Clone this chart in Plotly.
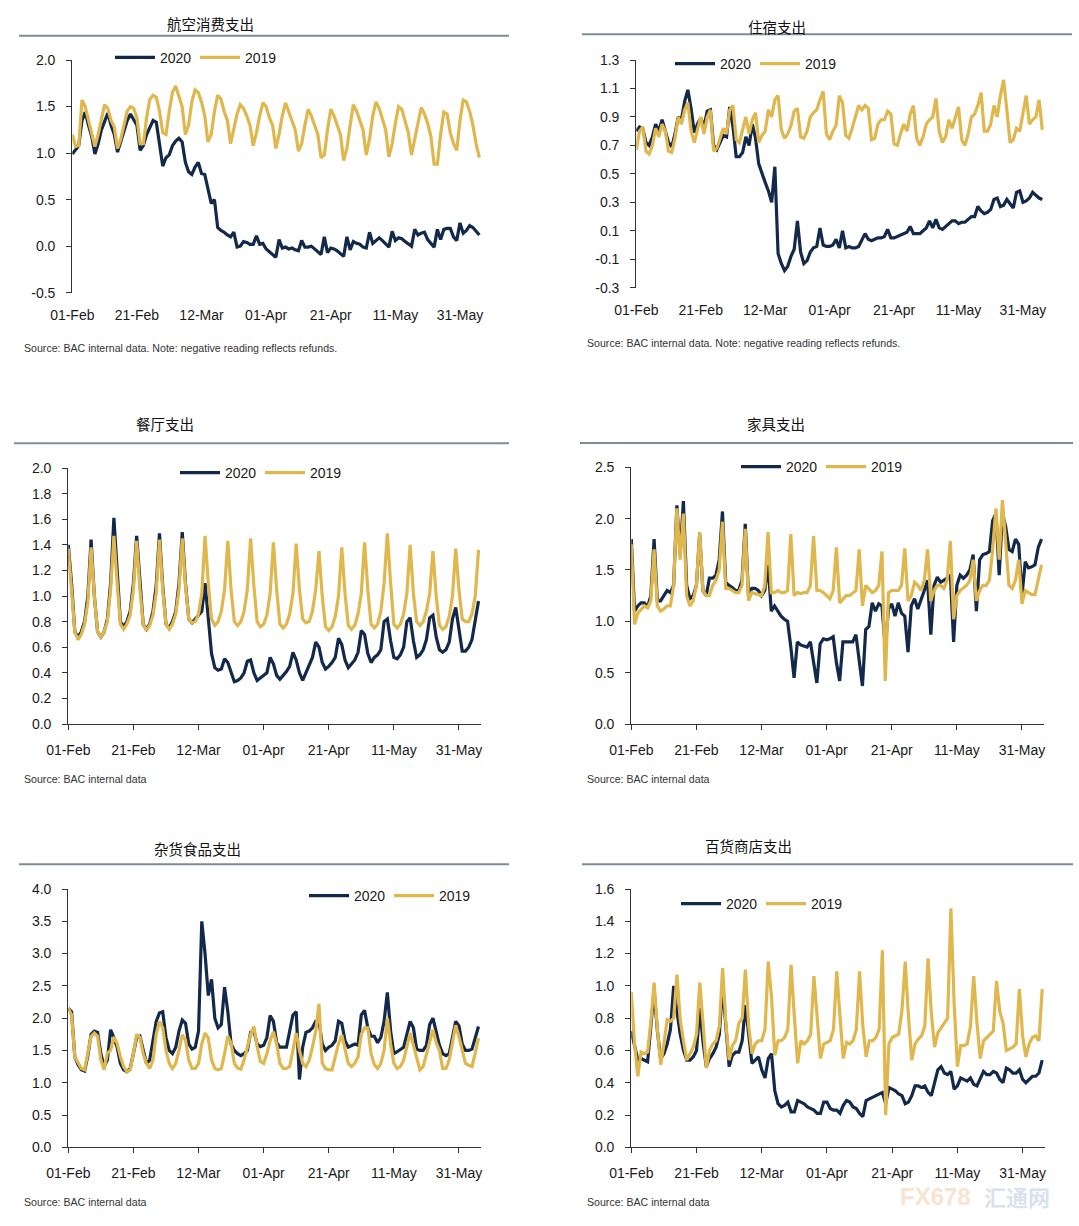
import pandas as pd
import plotly.graph_objects as go

W, H = 1079, 1226
START = "2020-02-01"
SPAN_DAYS = 126.8

TICK_DATES = ["2020-02-01", "2020-02-21", "2020-03-12", "2020-04-01",
              "2020-04-21", "2020-05-11", "2020-05-31"]
TICK_LABELS = ["01-Feb", "21-Feb", "12-Mar", "01-Apr", "21-Apr", "11-May", "31-May"]
SERIES_NAMES = ["2020", "2019"]

TITLES = ["航空消费支出", "住宿支出", "餐厅支出", "家具支出", "杂货食品支出", "百货商店支出"]
SOURCE_NOTE = "Source: BAC internal data. Note: negative reading reflects refunds."
SOURCE_PLAIN = "Source: BAC internal data"

# ---- daily values, 01-Feb .. 06-Jun (one row = one week) ----
airline_2020 = [
    0.99, 1.03, 1.08, 1.35, 1.44, 1.30, 1.18,
    0.99, 1.10, 1.25, 1.35, 1.43, 1.30, 1.20,
    1.01, 1.12, 1.25, 1.35, 1.42, 1.36, 1.30,
    1.03, 1.08, 1.20, 1.28, 1.35, 1.33, 1.12,
    0.86, 0.95, 0.98, 1.08, 1.13, 1.16, 1.12,
    0.90, 0.80, 0.77, 0.85, 0.90, 0.78, 0.77,
    0.60, 0.46, 0.50, 0.20, 0.17, 0.15, 0.12,
    0.10, 0.15, -0.01, 0.00, 0.05, 0.04, 0.02,
    0.02, 0.11, 0.02, 0.03, -0.03, -0.06, -0.08,
    -0.12, 0.07, -0.02, -0.01, -0.03, -0.02, -0.04,
    -0.05, 0.06, -0.01, -0.01, 0.00, -0.03, -0.05,
    -0.09, 0.10, -0.07, -0.02, -0.03, -0.05, -0.08,
    -0.11, 0.10, -0.04, 0.05, 0.03, 0.02, -0.01,
    -0.02, 0.15, 0.03, 0.06, 0.09, 0.06, 0.03,
    -0.01, 0.16, 0.06, 0.09, 0.08, 0.05, 0.02,
    0.00, 0.18, 0.12, 0.14, 0.15, 0.07, 0.03,
    -0.01, 0.18, 0.07, 0.18, 0.19, 0.19, 0.10,
    0.06, 0.25, 0.14, 0.17, 0.22, 0.20, 0.16,
    0.12]
airline_2019 = [
    1.20, 1.07, 1.08, 1.57, 1.50, 1.35, 1.22,
    1.07, 1.20, 1.38, 1.52, 1.48, 1.35, 1.28,
    1.05, 1.15, 1.32, 1.45, 1.50, 1.48, 1.38,
    1.10, 1.10, 1.38, 1.58, 1.62, 1.60, 1.45,
    1.22, 1.20, 1.45, 1.65, 1.72, 1.62, 1.50,
    1.20, 1.30, 1.55, 1.68, 1.65, 1.55, 1.40,
    1.12, 1.20, 1.45, 1.62, 1.58, 1.45, 1.35,
    1.10, 1.25, 1.42, 1.52, 1.48, 1.40, 1.30,
    1.08, 1.22, 1.40, 1.54, 1.50, 1.38, 1.30,
    1.05, 1.20, 1.40, 1.54, 1.45, 1.35, 1.25,
    1.02, 1.10, 1.30, 1.47, 1.40, 1.30, 1.20,
    0.95, 0.98, 1.25, 1.47, 1.40, 1.30, 1.20,
    0.92, 1.05, 1.30, 1.52, 1.45, 1.35, 1.25,
    0.98, 1.15, 1.40, 1.55, 1.48, 1.35, 1.25,
    0.96, 1.10, 1.32, 1.50, 1.47, 1.35, 1.22,
    0.98, 1.15, 1.35, 1.49, 1.42, 1.32, 1.18,
    0.88, 0.88, 1.20, 1.44, 1.42, 1.22, 1.10,
    1.03, 1.35, 1.57, 1.55, 1.45, 1.30, 1.10,
    0.95]

lodging_2020 = [
    0.80, 0.83, 0.82, 0.72, 0.70, 0.76, 0.85,
    0.80, 0.88, 0.80, 0.72, 0.69, 0.78, 0.90,
    0.88, 1.01, 1.09, 0.96, 0.79, 0.85, 0.89,
    0.83, 0.94, 0.95, 0.70, 0.67, 0.72, 0.77,
    0.76, 0.97, 0.83, 0.62, 0.62, 0.65, 0.76,
    0.70, 0.85, 0.75, 0.57, 0.50, 0.44, 0.38,
    0.30, 0.55, -0.06, -0.13, -0.18, -0.15, -0.08,
    -0.03, 0.17, -0.05, -0.13, -0.11, -0.05, -0.02,
    -0.01, 0.12, 0.00, -0.01, -0.01, 0.00, 0.04,
    -0.02, 0.10, -0.02, -0.01, -0.02, -0.02, -0.01,
    0.03, 0.08, 0.04, 0.03, 0.04, 0.05, 0.05,
    0.06, 0.11, 0.05, 0.05, 0.06, 0.07, 0.08,
    0.09, 0.13, 0.08, 0.08, 0.08, 0.10, 0.12,
    0.17, 0.12, 0.18, 0.12, 0.11, 0.13, 0.15,
    0.17, 0.17, 0.15, 0.16, 0.16, 0.18, 0.20,
    0.20, 0.27, 0.24, 0.22, 0.23, 0.25, 0.32,
    0.33, 0.27, 0.28, 0.32, 0.29, 0.26, 0.37,
    0.38, 0.30, 0.31, 0.33, 0.37, 0.35, 0.33,
    0.32]
lodging_2019 = [
    0.67, 0.80, 0.83, 0.66, 0.64, 0.70, 0.82,
    0.76, 0.85, 0.80, 0.66, 0.65, 0.75, 0.90,
    0.85, 0.95, 1.00, 0.80, 0.72, 0.80, 0.90,
    0.78, 0.90, 0.95, 0.66, 0.68, 0.75, 0.82,
    0.78, 0.95, 0.98, 0.74, 0.72, 0.80, 0.90,
    0.78, 0.88, 0.93, 0.72, 0.77, 0.80, 0.95,
    0.90, 1.02, 1.05, 0.81, 0.75, 0.78, 0.84,
    0.94, 0.96, 0.76, 0.75, 0.80, 0.90, 0.93,
    0.95, 1.02, 1.08, 0.78, 0.74, 0.80, 0.84,
    1.05, 1.00, 0.77, 0.75, 0.82, 0.90, 0.98,
    0.95, 0.98, 0.96, 0.74, 0.75, 0.85, 0.88,
    0.88, 0.94, 0.92, 0.71, 0.70, 0.78, 0.85,
    0.80, 0.92, 0.98, 0.75, 0.70, 0.76, 0.85,
    0.88, 0.90, 1.03, 0.80, 0.72, 0.76, 0.88,
    0.82, 0.90, 0.97, 0.74, 0.70, 0.78, 0.90,
    0.92, 0.98, 1.07, 0.80, 0.80, 0.85, 0.98,
    0.90, 1.05, 1.16, 0.95, 0.72, 0.74, 0.82,
    0.80, 0.92, 1.05, 0.85, 0.88, 0.90, 1.02,
    0.81]

restaurant_2020 = [
    1.40, 1.10, 0.72, 0.68, 0.72, 0.80, 1.00,
    1.44, 1.00, 0.72, 0.68, 0.72, 0.82, 1.10,
    1.61, 1.15, 0.80, 0.76, 0.80, 0.88, 1.10,
    1.47, 1.08, 0.78, 0.74, 0.78, 0.88, 1.08,
    1.49, 1.08, 0.78, 0.75, 0.80, 0.88, 1.10,
    1.50, 1.10, 0.82, 0.79, 0.82, 0.85, 0.88,
    1.10, 0.80, 0.55, 0.44, 0.42, 0.43, 0.51,
    0.48, 0.40, 0.33, 0.34, 0.36, 0.40, 0.49,
    0.50, 0.40, 0.34, 0.36, 0.38, 0.40, 0.52,
    0.47, 0.38, 0.35, 0.38, 0.41, 0.45, 0.56,
    0.50, 0.40, 0.34, 0.40, 0.45, 0.52, 0.64,
    0.60, 0.48, 0.43, 0.45, 0.48, 0.52, 0.67,
    0.62, 0.50, 0.44, 0.47, 0.50, 0.56, 0.73,
    0.70, 0.55, 0.48, 0.52, 0.54, 0.58, 0.80,
    0.82, 0.65, 0.52, 0.51, 0.54, 0.60, 0.80,
    0.83, 0.65, 0.52, 0.54, 0.58, 0.66, 0.83,
    0.85, 0.68, 0.58, 0.56, 0.58, 0.64, 0.82,
    0.91, 0.72, 0.57, 0.57, 0.60, 0.66, 0.80,
    0.96]
restaurant_2019 = [
    1.37, 1.05, 0.72, 0.66, 0.70, 0.78, 0.95,
    1.38, 1.00, 0.72, 0.68, 0.72, 0.80, 1.05,
    1.47, 1.10, 0.78, 0.74, 0.78, 0.85, 1.05,
    1.43, 1.05, 0.78, 0.73, 0.77, 0.85, 1.02,
    1.44, 1.05, 0.78, 0.74, 0.78, 0.86, 1.05,
    1.45, 1.08, 0.82, 0.79, 0.80, 0.86, 1.02,
    1.47, 1.10, 0.82, 0.77, 0.80, 0.88, 1.05,
    1.43, 1.05, 0.80, 0.77, 0.80, 0.88, 1.05,
    1.45, 1.08, 0.80, 0.76, 0.78, 0.85, 1.02,
    1.42, 1.05, 0.78, 0.75, 0.78, 0.86, 1.02,
    1.41, 1.05, 0.82, 0.79, 0.80, 0.88, 1.05,
    1.35, 1.00, 0.76, 0.73, 0.76, 0.84, 1.00,
    1.38, 1.02, 0.77, 0.74, 0.77, 0.86, 1.02,
    1.42, 1.05, 0.78, 0.75, 0.78, 0.88, 1.10,
    1.49, 1.10, 0.78, 0.75, 0.78, 0.86, 1.02,
    1.40, 1.02, 0.80, 0.77, 0.80, 0.88, 1.02,
    1.35, 1.00, 0.77, 0.74, 0.76, 0.84, 1.00,
    1.37, 1.05, 0.82, 0.80, 0.80, 0.86, 1.00,
    1.36]

furniture_2020 = [
    1.80, 1.10, 1.15, 1.18, 1.18, 1.14, 1.25,
    1.80, 1.20, 1.20, 1.25, 1.30, 1.28, 1.35,
    2.13, 1.65, 2.17, 1.35, 1.22, 1.25, 1.35,
    1.85, 1.30, 1.25, 1.42, 1.42, 1.45, 1.60,
    2.07, 1.38, 1.35, 1.33, 1.30, 1.30, 1.40,
    1.95, 1.25, 1.32, 1.32, 1.30, 1.25, 1.30,
    1.55, 1.10, 1.15, 1.10, 1.05, 1.02, 1.00,
    0.75, 0.45, 0.80, 0.77, 0.76, 0.75, 0.80,
    0.60, 0.40, 0.78, 0.83, 0.82, 0.83, 0.85,
    0.60, 0.42, 0.80, 0.80, 0.80, 0.80, 0.87,
    0.60, 0.37, 0.92, 0.95, 1.18, 1.10, 1.17,
    1.15, 0.75, 1.12, 1.17, 1.05, 1.18, 1.08,
    1.05, 0.70, 1.15, 1.22, 1.12, 1.20, 1.30,
    1.40, 0.87, 1.35, 1.43, 1.38, 1.40, 1.42,
    1.45, 0.80, 1.35, 1.45, 1.42, 1.45, 1.50,
    1.65, 1.10, 1.60, 1.65, 1.66, 1.68, 1.98,
    2.05, 1.45, 2.05, 1.92, 1.70, 1.68, 1.80,
    1.75, 1.25, 1.58, 1.52, 1.53, 1.55, 1.72,
    1.80]
furniture_2019 = [
    1.75, 0.97, 1.08, 1.12, 1.15, 1.13, 1.20,
    1.70, 1.15, 1.10, 1.12, 1.15, 1.15, 1.35,
    2.10, 1.60, 2.05, 1.25, 1.15, 1.20, 1.35,
    1.87, 1.30, 1.25, 1.25, 1.35, 1.40, 1.50,
    1.97, 1.32, 1.32, 1.30, 1.28, 1.28, 1.35,
    1.90, 1.20, 1.28, 1.27, 1.26, 1.25, 1.35,
    1.87, 1.28, 1.28, 1.30, 1.28, 1.28, 1.30,
    1.85, 1.25, 1.28, 1.27, 1.28, 1.28, 1.35,
    1.83, 1.30, 1.30, 1.28, 1.25, 1.22, 1.30,
    1.72, 1.18, 1.22, 1.25, 1.25, 1.28, 1.30,
    1.70, 1.15, 1.35, 1.32, 1.28, 1.30, 1.35,
    1.68, 0.42, 1.28, 1.30, 1.30, 1.30, 1.35,
    1.71, 1.20, 1.25, 1.38, 1.35, 1.30, 1.40,
    1.70, 1.20, 1.30, 1.35, 1.35, 1.32, 1.40,
    1.78, 1.02, 1.25, 1.30, 1.33, 1.35, 1.40,
    1.60, 1.20, 1.30, 1.35, 1.35, 1.40, 1.70,
    2.10, 1.60, 2.18, 1.80, 1.35, 1.32, 1.40,
    1.60, 1.17, 1.30, 1.28, 1.26, 1.26, 1.40,
    1.55]

grocery_2020 = [
    2.15, 2.10, 1.40, 1.28, 1.20, 1.18, 1.42,
    1.75, 1.80, 1.78, 1.45, 1.25, 1.35, 1.82,
    1.70, 1.55, 1.30, 1.20, 1.17, 1.22, 1.45,
    1.70, 1.72, 1.50, 1.30, 1.35, 1.62, 1.95,
    2.08, 2.10, 1.70, 1.50, 1.45, 1.55, 1.80,
    1.97, 1.92, 1.60, 1.52, 1.55, 1.80, 3.50,
    3.00, 2.35, 2.60, 2.00, 1.85, 1.90, 2.48,
    2.10, 1.60, 1.50, 1.45, 1.42, 1.45, 1.50,
    1.78, 1.80, 1.60, 1.56, 1.58, 1.70, 2.04,
    1.95, 1.62, 1.55, 1.55, 1.55, 1.80, 2.05,
    2.10, 1.05, 1.55, 1.78, 1.80, 1.85, 1.95,
    1.95, 1.60, 1.50, 1.55, 1.58, 1.65, 1.95,
    1.92, 1.65, 1.55, 1.58, 1.60, 1.58, 2.05,
    2.12, 1.85, 1.72, 1.72, 1.62, 1.70, 1.95,
    2.40, 1.80, 1.45, 1.48, 1.52, 1.55, 1.75,
    1.95, 1.85, 1.52, 1.50, 1.50, 1.58, 1.90,
    2.00, 1.80, 1.58, 1.45, 1.42, 1.45, 1.70,
    1.95, 1.88, 1.60, 1.50, 1.50, 1.52, 1.72,
    1.87]
grocery_2019 = [
    2.15, 2.05, 1.40, 1.30, 1.22, 1.20, 1.45,
    1.72, 1.77, 1.72, 1.35, 1.20, 1.46, 1.50,
    1.71, 1.61, 1.40, 1.25, 1.17, 1.20, 1.45,
    1.75, 1.70, 1.45, 1.30, 1.22, 1.35, 1.75,
    1.95, 1.85, 1.50, 1.30, 1.22, 1.30, 1.50,
    1.74, 1.66, 1.35, 1.22, 1.22, 1.30, 1.60,
    1.77, 1.69, 1.35, 1.22, 1.20, 1.22, 1.45,
    1.72, 1.61, 1.30, 1.23, 1.21, 1.35, 1.56,
    1.75, 1.87, 1.56, 1.33, 1.30, 1.45, 1.65,
    1.79, 1.60, 1.30, 1.22, 1.22, 1.25, 1.50,
    1.77, 1.50, 1.30, 1.25, 1.35, 1.55, 1.80,
    2.22, 1.30, 1.22, 1.20, 1.20, 1.40, 1.60,
    1.74, 1.50, 1.30, 1.25, 1.30, 1.40, 1.75,
    1.85, 1.85, 1.45, 1.28, 1.22, 1.30, 1.50,
    2.00, 1.60, 1.30, 1.22, 1.25, 1.35, 1.55,
    1.77, 1.58, 1.40, 1.20, 1.25, 1.45, 1.62,
    1.82, 1.62, 1.50, 1.22, 1.22, 1.35, 1.61,
    1.89, 1.71, 1.50, 1.30, 1.27, 1.25, 1.46,
    1.69]

dept_2020 = [
    0.72, 0.62, 0.54, 0.55, 0.54, 0.53, 0.75,
    0.97, 0.72, 0.55, 0.58, 0.64, 0.73, 1.00,
    0.84, 0.70, 0.60, 0.54, 0.54, 0.56, 0.60,
    0.86, 0.65, 0.50, 0.55, 0.58, 0.62, 0.70,
    1.00, 0.75, 0.50, 0.57, 0.59, 0.59, 0.66,
    0.88, 0.70, 0.52, 0.54, 0.56, 0.48, 0.43,
    0.55, 0.58, 0.35, 0.27, 0.25, 0.26, 0.28,
    0.22, 0.22, 0.29, 0.28, 0.27, 0.25, 0.24,
    0.23, 0.21, 0.21, 0.28, 0.28, 0.24, 0.23,
    0.23, 0.21, 0.26, 0.29, 0.28, 0.25, 0.24,
    0.21, 0.19, 0.29, 0.30, 0.31, 0.32, 0.33,
    0.34, 0.27, 0.37, 0.36, 0.35, 0.33, 0.32,
    0.27, 0.28, 0.32, 0.38, 0.38, 0.37, 0.38,
    0.34, 0.32, 0.40, 0.48, 0.50, 0.46, 0.45,
    0.47, 0.36, 0.38, 0.43, 0.42, 0.41, 0.43,
    0.39, 0.38, 0.43, 0.47, 0.45, 0.45, 0.47,
    0.46, 0.42, 0.40, 0.49, 0.48, 0.46, 0.46,
    0.48, 0.42, 0.40, 0.42, 0.44, 0.44, 0.46,
    0.54]
dept_2019 = [
    0.96, 0.64, 0.44, 0.59, 0.58, 0.59, 0.78,
    1.02, 0.73, 0.51, 0.64, 0.79, 0.78, 0.80,
    1.07, 0.79, 0.66, 0.54, 0.58, 0.62, 0.70,
    1.02, 0.77, 0.49, 0.60, 0.64, 0.66, 0.75,
    1.11, 0.77, 0.54, 0.63, 0.66, 0.77, 0.80,
    1.10, 0.75, 0.58, 0.64, 0.66, 0.66, 0.73,
    1.15, 0.93, 0.57, 0.66, 0.66, 0.68, 0.73,
    1.13, 0.81, 0.52, 0.66, 0.64, 0.66, 0.70,
    1.06, 0.77, 0.55, 0.64, 0.65, 0.66, 0.73,
    1.09, 0.81, 0.55, 0.65, 0.64, 0.66, 0.73,
    1.09, 0.75, 0.56, 0.66, 0.66, 0.68, 0.73,
    1.22, 0.20, 0.64, 0.68, 0.69, 0.70, 0.85,
    1.15, 0.81, 0.54, 0.64, 0.67, 0.69, 0.75,
    1.17, 0.83, 0.62, 0.71, 0.74, 0.77, 0.80,
    1.48, 0.89, 0.50, 0.63, 0.63, 0.64, 0.75,
    1.06, 0.77, 0.55, 0.66, 0.68, 0.70, 0.72,
    1.03, 0.84, 0.77, 0.60, 0.61, 0.62, 0.64,
    0.98, 0.69, 0.56, 0.64, 0.68, 0.69, 0.66,
    0.98]

Y_TICKS = [
    [-0.5, 0.0, 0.5, 1.0, 1.5, 2.0],
    [-0.3, -0.1, 0.1, 0.3, 0.5, 0.7, 0.9, 1.1, 1.3],
    [0.0, 0.2, 0.4, 0.6, 0.8, 1.0, 1.2, 1.4, 1.6, 1.8, 2.0],
    [0.0, 0.5, 1.0, 1.5, 2.0, 2.5],
    [0.0, 0.5, 1.0, 1.5, 2.0, 2.5, 3.0, 3.5, 4.0],
    [0.0, 0.2, 0.4, 0.6, 0.8, 1.0, 1.2, 1.4, 1.6],
]

DATA = [
    (airline_2020, airline_2019),
    (lodging_2020, lodging_2019),
    (restaurant_2020, restaurant_2019),
    (furniture_2020, furniture_2019),
    (grocery_2020, grocery_2019),
    (dept_2020, dept_2019),
]
SOURCES = [SOURCE_NOTE, SOURCE_NOTE, SOURCE_PLAIN, SOURCE_PLAIN, SOURCE_PLAIN, SOURCE_PLAIN]

# ---- layout geometry (pixels) ----
GEOM = [
    dict(left=72.3, top=60.0, bottom=292.7, ppd=3.2306, title=(210, 23), rule=(19, 509, 35.7),
         legend=(116, 57.7), source=(22, 348), zero=True),
    dict(left=636.3, top=60.0, bottom=287.7, ppd=3.2222, title=(777, 26), rule=(582, 1072, 34.3),
         legend=(676, 64), source=(585, 343), zero=True),
    dict(left=68.3, top=468.0, bottom=724.0, ppd=3.2556, title=(165, 423), rule=(14, 509, 443.3),
         legend=(181, 473), source=(22, 779), zero=False),
    dict(left=631.3, top=467.3, bottom=724.0, ppd=3.2556, title=(776, 423), rule=(580, 1073, 443),
         legend=(742, 467), source=(585, 779), zero=False),
    dict(left=68.3, top=889.0, bottom=1147.3, ppd=3.2556, title=(197, 848), rule=(19, 509, 864.3),
         legend=(310, 896), source=(22, 1202), zero=False),
    dict(left=631.3, top=889.0, bottom=1147.3, ppd=3.2611, title=(748, 846), rule=(582, 1073, 864.3),
         legend=(682, 904), source=(585, 1202), zero=False),
]

NAVY = "#13294b"
GOLD = "#e0b74c"
AXIS = "#333333"
RULE = "#7f8b99"
FONT = "Liberation Sans, Arial, sans-serif"
CJK = "Noto Sans CJK SC, sans-serif"

start = pd.Timestamp(START)
x_end = start + pd.Timedelta(days=SPAN_DAYS)
tick_dates = pd.to_datetime(TICK_DATES)

fig = go.Figure()
layout = dict(width=W, height=H, margin=dict(l=0, r=0, t=0, b=0, autoexpand=False),
              paper_bgcolor="white", plot_bgcolor="white", showlegend=True)
shapes, annotations = [], []


def px(v):
    return v / W


def py(v):
    return 1 - v / H


for i, ((v20, v19), g, yt) in enumerate(zip(DATA, GEOM, Y_TICKS)):
    n = i + 1
    sfx = "" if n == 1 else str(n)
    lg = "legend" if n == 1 else f"legend{n}"
    for name, vals, col in ((SERIES_NAMES[0], v20, NAVY), (SERIES_NAMES[1], v19, GOLD)):
        dates = pd.date_range(start, periods=len(vals), freq="D")
        fig.add_trace(go.Scatter(x=dates, y=vals, mode="lines", name=name,
                                 line=dict(color=col, width=3.2), legend=lg,
                                 xaxis=f"x{sfx}", yaxis=f"y{sfx}", hoverinfo="x+y"))
    right = g["left"] + SPAN_DAYS * g["ppd"]
    xdom = [px(g["left"]), px(right)]
    ydom = [py(g["bottom"]), py(g["top"])]
    yr = [yt[0], yt[-1]]
    layout[f"xaxis{sfx}"] = dict(
        domain=xdom, anchor=f"y{sfx}", range=[start, x_end], type="date",
        tickmode="array", tickvals=tick_dates, ticktext=TICK_LABELS,
        showgrid=False, zeroline=False,
        showline=not g["zero"], linecolor=AXIS, linewidth=1.2,
        ticks="" if g["zero"] else "outside", ticklen=5, tickcolor=AXIS, tickwidth=1.2,
        ticklabelstandoff=12 if g["zero"] else 8,
        tickfont=dict(family=FONT, size=14, color="#1a1a1a"))
    layout[f"yaxis{sfx}"] = dict(
        domain=ydom, anchor=f"x{sfx}", range=yr, tickmode="array", tickvals=yt,
        ticktext=[f"{v:.1f}" for v in yt], showgrid=False, zeroline=False,
        showline=True, linecolor=AXIS, linewidth=1.2,
        ticks="outside", ticklen=5, tickcolor=AXIS, tickwidth=1.2, ticklabelstandoff=8,
        tickfont=dict(family=FONT, size=14, color="#1a1a1a"))
    if g["zero"]:
        k = 6 + n
        zpos = ydom[0] + (0 - yr[0]) / (yr[1] - yr[0]) * (ydom[1] - ydom[0])
        layout[f"xaxis{k}"] = dict(
            domain=xdom, overlaying=f"x{sfx}", anchor="free", position=zpos,
            range=[start, x_end], type="date", tickmode="array", tickvals=tick_dates,
            showticklabels=False, showgrid=False, zeroline=False,
            showline=True, linecolor=AXIS, linewidth=1.2,
            ticks="outside", ticklen=5, tickcolor=AXIS, tickwidth=1.2)
    layout[lg] = dict(orientation="h", x=px(g["legend"][0] - 6), y=py(g["legend"][1]),
                      xanchor="left", yanchor="middle", bgcolor="rgba(0,0,0,0)",
                      font=dict(family=FONT, size=14, color="#1a1a1a"),
                      entrywidth=30, entrywidthmode="pixels", itemwidth=40,
                      tracegroupgap=0, itemclick=False)
    annotations.append(dict(text=TITLES[i], x=px(g["title"][0]), y=py(g["title"][1]),
                            xref="paper", yref="paper", xanchor="center", yanchor="middle",
                            showarrow=False, font=dict(family=CJK, size=14.5, color="#111111")))
    annotations.append(dict(text=SOURCES[i], x=px(g["source"][0]), y=py(g["source"][1]),
                            xref="paper", yref="paper", xanchor="left", yanchor="middle",
                            showarrow=False, font=dict(family=FONT, size=10.6, color="#333333")))
    x0r, x1r, yr_ = g["rule"]
    shapes.append(dict(type="line", xref="paper", yref="paper", x0=px(x0r), x1=px(x1r),
                       y0=py(yr_), y1=py(yr_), line=dict(color=RULE, width=2)))

annotations.append(dict(text="<b>FX678</b>", x=px(898), y=py(1196), xref="paper", yref="paper",
                        xanchor="left", yanchor="middle", showarrow=False,
                        font=dict(family=FONT, size=24, color="rgba(242,170,120,0.35)")))
annotations.append(dict(text="<b>汇通网</b>", x=px(982), y=py(1196), xref="paper", yref="paper",
                        xanchor="left", yanchor="middle", showarrow=False,
                        font=dict(family=CJK, size=22, color="rgba(120,150,200,0.3)")))

layout["shapes"] = shapes
layout["annotations"] = annotations
fig.update_layout(**layout)
fig.write_html("out.html", config={"displayModeBar": False},
               post_script="document.body.style.margin='0';document.body.style.overflow='hidden';")
